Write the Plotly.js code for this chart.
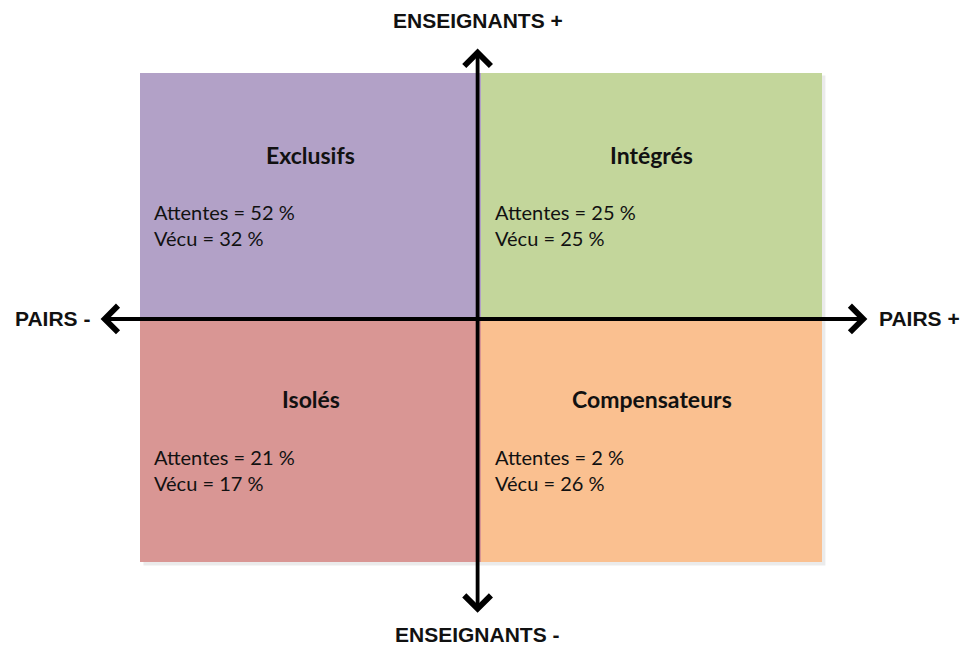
<!DOCTYPE html>
<html>
<head>
<meta charset="utf-8">
<script src="https://cdn.plot.ly/plotly-3.0.1.min.js"></script>
<style>html,body{margin:0;padding:0;background:#fff;}#chart{width:963px;height:647px;}</style>
</head>
<body>
<div id="chart"></div>
<script>
// Data
const quadrantNames = ["Exclusifs", "Intégrés", "Isolés", "Compensateurs"];
const attentes = [52, 25, 21, 2];
const vecu = [32, 25, 17, 26];
const axisLabels = {xNeg: "PAIRS -", xPos: "PAIRS +", yPos: "ENSEIGNANTS +", yNeg: "ENSEIGNANTS -"};

// Layout/styling (not data)
const quadX = [-1, 0, -1, 0];   // left edge of quadrant
const quadY = [0, 0, -1, -1];   // bottom edge of quadrant
const quadColors = ["#B2A1C7", "#C3D69B", "#D99694", "#FAC090"];

const shapes = [];
const annotations = [];

// soft shadow
shapes.push({type: "rect", xref: "x", yref: "y", x0: -0.99, x1: 1.01, y0: -1.014, y1: 0.99,
  line: {width: 0}, fillcolor: "rgba(0,0,0,0.08)", layer: "below"});

quadrantNames.forEach((name, i) => {
  const x0 = quadX[i], y0 = quadY[i];
  shapes.push({type: "rect", xref: "x", yref: "y",
    x0: x0, x1: x0 + 1, y0: y0, y1: y0 + 1,
    line: {width: 0}, fillcolor: quadColors[i], layer: "below"});
  const top = y0 + 1;
  annotations.push({xref: "x", yref: "y", x: x0 + 0.5, y: top - 0.335, text: "<b>" + name + "</b>",
    showarrow: false, xanchor: "center", yanchor: "middle",
    font: {family: "Lato, sans-serif", size: 23, color: "#111"}});
  annotations.push({xref: "x", yref: "y", x: x0 + 0.036, y: top - 0.569, text: "Attentes = " + attentes[i] + " %",
    showarrow: false, xanchor: "left", yanchor: "middle",
    font: {family: "Lato, sans-serif", size: 20, color: "#111"}});
  annotations.push({xref: "x", yref: "y", x: x0 + 0.036, y: top - 0.675, text: "Vécu = " + vecu[i] + " %",
    showarrow: false, xanchor: "left", yanchor: "middle",
    font: {family: "Lato, sans-serif", size: 20, color: "#111"}});
});

// axes arrows
const arrowStyle = {xref: "x", yref: "y", axref: "x", ayref: "y", text: "", showarrow: true,
  arrowside: "end+start", arrowhead: 4, startarrowhead: 4, arrowsize: 1.35, startarrowsize: 1.35,
  arrowwidth: 3.8, arrowcolor: "#000", standoff: 0, startstandoff: 0};
annotations.push(Object.assign({}, arrowStyle, {x: 1.133, y: -0.006, ax: -1.12, ay: -0.006}));
annotations.push(Object.assign({}, arrowStyle, {x: -0.01, y: 1.1, ax: -0.01, ay: -1.214}));

const labFont = {family: "Liberation Sans, Arial, sans-serif", size: 21, color: "#111"};
annotations.push({xref: "x", yref: "y", x: -1.14, y: -0.006, text: "<b>" + axisLabels.xNeg + "</b>", showarrow: false, xanchor: "right", yanchor: "middle", font: labFont});
annotations.push({xref: "x", yref: "y", x: 1.16, y: -0.006, text: "<b>" + axisLabels.xPos + "</b>", showarrow: false, xanchor: "left", yanchor: "middle", font: labFont});
annotations.push({xref: "x", yref: "y", x: -0.01, y: 1.216, text: "<b>" + axisLabels.yPos + "</b>", showarrow: false, xanchor: "center", yanchor: "middle", font: labFont});
annotations.push({xref: "x", yref: "y", x: -0.01, y: -1.296, text: "<b>" + axisLabels.yNeg + "</b>", showarrow: false, xanchor: "center", yanchor: "middle", font: labFont});

const layout = {
  width: 963, height: 647,
  margin: {l: 0, r: 0, t: 0, b: 0},
  paper_bgcolor: "#fff", plot_bgcolor: "rgba(0,0,0,0)",
  xaxis: {range: [-1.4106, 1.4135], visible: false, fixedrange: true},
  yaxis: {range: [-1.3476, 1.2986], visible: false, fixedrange: true},
  shapes: shapes, annotations: annotations, showlegend: false
};

Plotly.newPlot("chart", [], layout, {staticPlot: true, displayModeBar: false});
</script>
</body>
</html>
